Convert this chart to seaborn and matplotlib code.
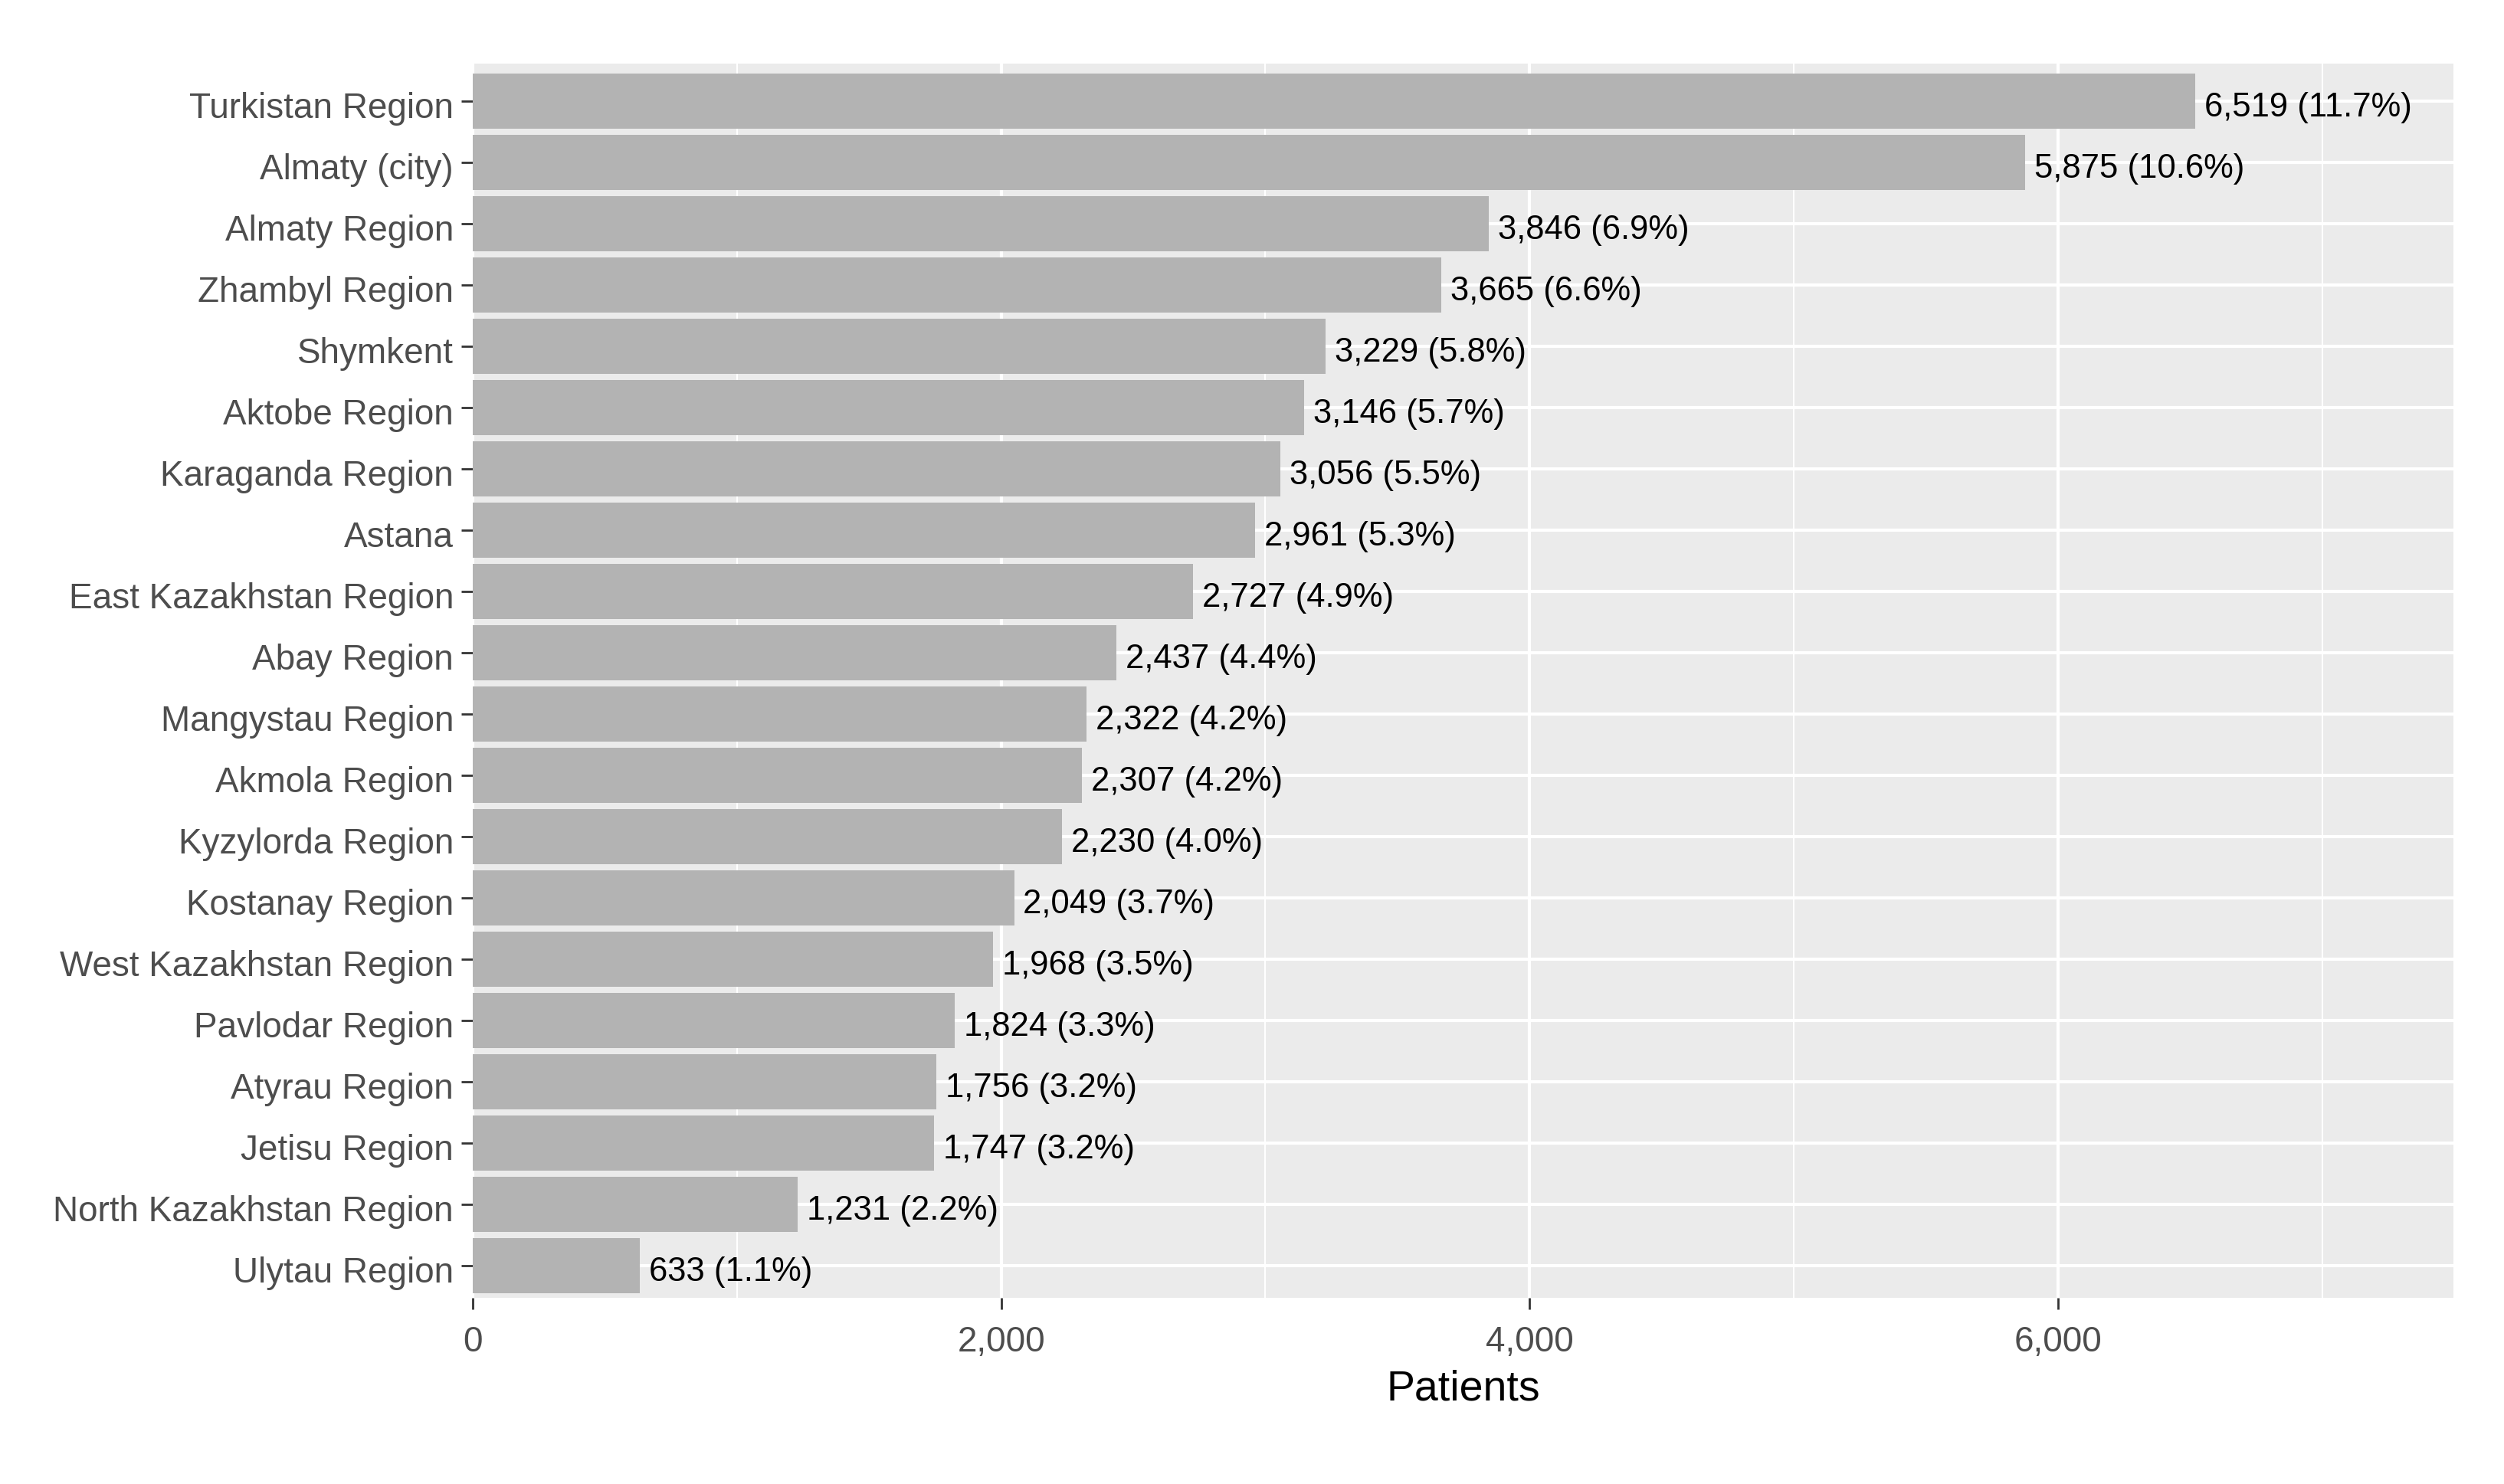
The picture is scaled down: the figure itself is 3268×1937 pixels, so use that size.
import matplotlib
matplotlib.use("Agg")
import matplotlib.pyplot as plt
import matplotlib.transforms as mtransforms
from matplotlib.ticker import MultipleLocator, FuncFormatter
import seaborn as sns
import pandas as pd

regions = ["Turkistan Region", "Almaty (city)", "Almaty Region", "Zhambyl Region",
           "Shymkent", "Aktobe Region", "Karaganda Region", "Astana",
           "East Kazakhstan Region", "Abay Region", "Mangystau Region", "Akmola Region",
           "Kyzylorda Region", "Kostanay Region", "West Kazakhstan Region",
           "Pavlodar Region", "Atyrau Region", "Jetisu Region",
           "North Kazakhstan Region", "Ulytau Region"]
patients = [6519, 5875, 3846, 3665, 3229, 3146, 3056, 2961, 2727, 2437,
            2322, 2307, 2230, 2049, 1968, 1824, 1756, 1747, 1231, 633]
percents = [11.7, 10.6, 6.9, 6.6, 5.8, 5.7, 5.5, 5.3, 4.9, 4.4,
            4.2, 4.2, 4.0, 3.7, 3.5, 3.3, 3.2, 3.2, 2.2, 1.1]
x_ticks = [0, 2000, 4000, 6000]
x_title = "Patients"

df = pd.DataFrame({"region": regions, "patients": patients, "pct": percents})

sns.set_theme(style="darkgrid")
plt.rcParams["font.family"] = ["Liberation Sans", "DejaVu Sans"]

W, H = 3268, 1937
left, right, top, bottom = 617, 3202, 83, 1694
fig = plt.figure(figsize=(W / 200, H / 200), dpi=200)
ax = fig.add_axes([left / W, 1 - bottom / H, (right - left) / W, (bottom - top) / H])
ax.set_facecolor("#EBEBEB")

sns.barplot(data=df, x="patients", y="region", order=regions, orient="h",
            color="#B3B3B3", saturation=1, width=0.9, linewidth=0,
            ax=ax, zorder=3)

ax.set_xlim(0, 7497)
ax.set_ylim(len(regions) - 1 + 0.53, -0.61)

ax.xaxis.set_minor_locator(MultipleLocator(1000))
ax.set_xticks(x_ticks)
ax.xaxis.set_major_formatter(FuncFormatter(lambda v, p: f"{int(v):,}"))

ax.grid(False)
ax.set_axisbelow(True)
ax.grid(which="major", axis="both", color="white", linewidth=1.5, zorder=0)
ax.grid(which="minor", axis="x", color="white", linewidth=0.75, zorder=0)
for s in ax.spines.values():
    s.set_visible(False)

ax.tick_params(axis="both", which="major", length=5.5, width=1.0, color="#333333",
               labelsize=16.5, labelcolor="#4D4D4D", bottom=True, left=True)
ax.tick_params(axis="y", which="major", pad=3.5)
ax.tick_params(axis="x", which="major", pad=7.4)
ax.tick_params(axis="both", which="minor", length=0)

ax.set_yticks(range(len(regions)))
ax.set_yticklabels(regions, va="center_baseline")
shift = mtransforms.ScaledTranslation(0, -2.0 / 72, fig.dpi_scale_trans)
for tick in ax.yaxis.get_major_ticks():
    tick.label1.set_transform(tick.label1.get_transform() + shift)

for i, (v, p) in enumerate(zip(patients, percents)):
    ax.annotate(f"{v:,} ({p:.1f}%)", xy=(v, i), xytext=(4.3, -1.5),
                textcoords="offset points", ha="left", va="center_baseline",
                fontsize=15.7, color="black", zorder=4)

ax.set_ylabel("")
ax.set_xlabel(x_title, fontsize=20, color="black", labelpad=5)

fig.savefig("out.png", dpi=200, facecolor="white")
